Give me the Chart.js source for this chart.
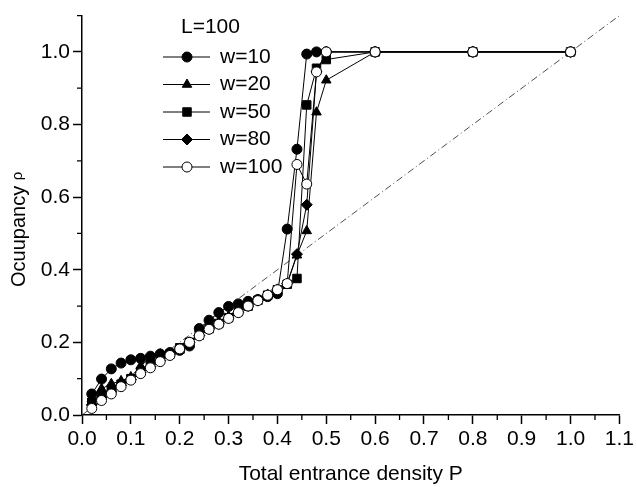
<!DOCTYPE html>
<html>
<head>
<meta charset="utf-8">
<script src="https://cdn.jsdelivr.net/npm/chart.js@4"></script>
<style>
  html, body { margin: 0; padding: 0; background: #fff; }
</style>
</head>
<body>
<canvas id="occChart" width="637" height="487"></canvas>
<script>
// x positions: total entrance density P
const densityP = [0.02, 0.04, 0.06, 0.08, 0.10, 0.12, 0.14, 0.16, 0.18, 0.20,
                  0.22, 0.24, 0.26, 0.28, 0.30, 0.32, 0.34, 0.36, 0.38, 0.40,
                  0.42, 0.44, 0.46, 0.48, 0.50, 0.6, 0.8, 1.0];

// occupancy rho per window size w (L=100)
const rhoW10 = [0.058, 0.099, 0.127, 0.143, 0.152, 0.156, 0.162, 0.168, 0.172, 0.178,
                0.19, 0.238, 0.261, 0.282, 0.299, 0.306, 0.313, 0.318, 0.326, 0.334,
                0.512, 0.732, 0.994, 1.0, 1.0, 1.0, 1.0, 1.0];
const rhoW20 = [0.045, 0.072, 0.086, 0.094, 0.105, 0.135, 0.158, 0.168, 0.168, 0.178,
                0.20, 0.225, 0.245, 0.258, 0.272, 0.288, 0.303, 0.318, 0.332, 0.346,
                0.362, 0.44, 0.507, 0.834, 0.922, 1.0, 1.0, 1.0];
const rhoW50 = [0.035, 0.055, 0.07, 0.085, 0.10, 0.12, 0.138, 0.155, 0.168, 0.185,
                0.20, 0.22, 0.238, 0.252, 0.268, 0.285, 0.30, 0.316, 0.33, 0.345,
                0.36, 0.376, 0.854, 0.955, 0.979, 1.0, 1.0, 1.0];
const rhoW80 = [0.028, 0.048, 0.064, 0.082, 0.098, 0.116, 0.133, 0.15, 0.166, 0.183,
                0.20, 0.219, 0.237, 0.251, 0.267, 0.283, 0.30, 0.315, 0.33, 0.345,
                0.362, 0.443, 0.579, 0.945, 1.0, 1.0, 1.0, 1.0];
const rhoW100 = [0.018, 0.04, 0.058, 0.078, 0.096, 0.114, 0.13, 0.147, 0.164, 0.182,
                 0.20, 0.218, 0.236, 0.25, 0.266, 0.282, 0.30, 0.315, 0.33, 0.345,
                 0.362, 0.69, 0.636, 0.945, 1.0, 1.0, 1.0, 1.0];

const diagonal = [[0, 0], [1.1, 1.1]];

const xTicks = [0, 0.1, 0.2, 0.3, 0.4, 0.5, 0.6, 0.7, 0.8, 0.9, 1.0, 1.1];
const yTicks = [0, 0.2, 0.4, 0.6, 0.8, 1.0];
const xMinor = [0.05, 0.15, 0.25, 0.35, 0.45, 0.55, 0.65, 0.75, 0.85, 0.95, 1.05];
const yMinor = [0.1, 0.3, 0.5, 0.7, 0.9, 1.1];

const FONT = '"Liberation Sans", Arial, sans-serif';
const FS = 21;

function series(label, ys, style, fill, r, order) {
  return {
    label,
    data: densityP.map((x, i) => ({ x, y: ys[i] })),
    showLine: true,
    borderColor: '#000',
    borderWidth: 1,
    pointStyle: style,
    pointRadius: r,
    pointBackgroundColor: fill,
    pointBorderColor: '#000',
    pointBorderWidth: 1,
    order,
    inLegend: true
  };
}

// minor ticks, y title, custom legend
const extrasPlugin = {
  id: 'extras',
  afterDraw(chart) {
    const ctx = chart.ctx;
    const xs = chart.scales.x, ys = chart.scales.y;
    ctx.save();
    ctx.strokeStyle = '#000';
    ctx.lineWidth = 1.3;
    ctx.beginPath();
    for (const v of xMinor) {
      const px = xs.getPixelForValue(v);
      ctx.moveTo(px, xs.top);
      ctx.lineTo(px, xs.top + 5);
    }
    for (const v of yMinor) {
      const py = ys.getPixelForValue(v);
      ctx.moveTo(ys.right, py);
      ctx.lineTo(ys.right - 5, py);
    }
    ctx.stroke();

    // y axis title
    ctx.save();
    ctx.translate(19, 287);
    ctx.rotate(-Math.PI / 2);
    ctx.fillStyle = '#000';
    ctx.textBaseline = 'middle';
    ctx.font = '20px ' + FONT;
    ctx.fillText('Ocuupancy', 0, 0);
    const w = ctx.measureText('Ocuupancy ').width;
    ctx.font = '15px ' + FONT;
    ctx.fillText('ρ', w, -1);
    ctx.restore();

    // legend
    ctx.font = FS + 'px ' + FONT;
    ctx.fillStyle = '#000';
    ctx.textBaseline = 'middle';
    ctx.fillText('L=100', 181, 27);
    let row = 0;
    chart.data.datasets.forEach(ds => {
      if (!ds.inLegend) return;
      const y = 57 + row * 27.5;
      ctx.lineWidth = 1;
      ctx.strokeStyle = '#000';
      ctx.beginPath();
      ctx.moveTo(163, y);
      ctx.lineTo(210, y);
      ctx.stroke();
      ctx.fillStyle = ds.pointBackgroundColor;
      Chart.helpers.drawPoint(ctx, { pointStyle: ds.pointStyle, radius: ds.pointRadius, borderWidth: 1, rotation: 0 }, 187, y);
      ctx.fillStyle = '#000';
      ctx.fillText(ds.label, 220, y);
      row++;
    });
    ctx.restore();
  }
};

new Chart(document.getElementById('occChart'), {
  type: 'scatter',
  data: {
    datasets: [
      series('w=10', rhoW10, 'circle', '#000', 5, 5),
      series('w=20', rhoW20, 'triangle', '#000', 5.5, 4),
      series('w=50', rhoW50, 'rect', '#000', 6, 3),
      series('w=80', rhoW80, 'rectRot', '#000', 5.5, 2),
      series('w=100', rhoW100, 'circle', '#fff', 5, 1),
      {
        label: 'diag',
        data: diagonal.map(p => ({ x: p[0], y: p[1] })),
        showLine: true,
        borderColor: '#222',
        borderWidth: 0.8,
        borderDash: [7, 3, 1, 3],
        pointRadius: 0,
        order: 6
      }
    ]
  },
  options: {
    responsive: false,
    animation: false,
    devicePixelRatio: 1,
    layout: { padding: { top: 12, right: 11, left: 0, bottom: 0 } },
    plugins: { legend: { display: false }, tooltip: { enabled: false } },
    scales: {
      x: {
        type: 'linear', min: 0, max: 1.1,
        afterFit: s => { s.height = 72; },
        afterBuildTicks: s => { s.ticks = xTicks.map(v => ({ value: v })); },
        border: { color: '#000', width: 1.5 },
        grid: { drawOnChartArea: false, tickLength: 9, tickColor: '#000', tickWidth: 1.5 },
        ticks: { autoSkip: false, maxRotation: 0, color: '#000', padding: 3,
                 font: { family: FONT, size: FS }, callback: v => v.toFixed(1) },
        title: { display: true, text: 'Total entrance density P', color: '#000',
                 font: { family: FONT, size: FS }, padding: { top: 0, bottom: 0 } }
      },
      y: {
        type: 'linear', min: 0, max: 1.1,
        afterFit: s => { s.width = 82; },
        afterBuildTicks: s => { s.ticks = yTicks.map(v => ({ value: v })); },
        border: { color: '#000', width: 1.5 },
        grid: { drawOnChartArea: false, tickLength: 9, tickColor: '#000', tickWidth: 1.5 },
        ticks: { color: '#000', padding: 3, font: { family: FONT, size: FS },
                 callback: v => v.toFixed(1) }
      }
    }
  },
  plugins: [extrasPlugin]
});
</script>
</body>
</html>
